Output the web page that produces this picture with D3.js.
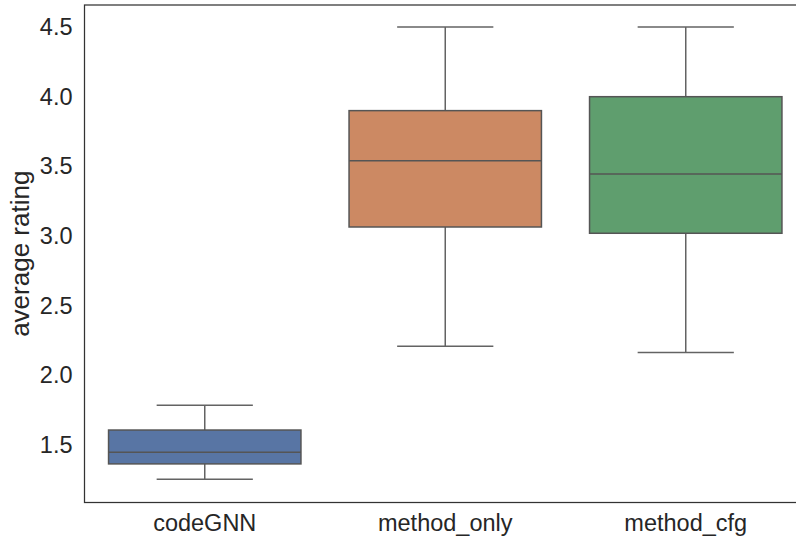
<!DOCTYPE html>
<html>
<head>
<meta charset="utf-8">
<script src="https://cdn.jsdelivr.net/npm/d3@7"></script>
<style>
  body { margin: 0; background: #fff; }
  text { font-family: "Liberation Sans", Arial, sans-serif; fill: #262626; }
</style>
</head>
<body>
<script>
//box statistics
var categories = ["codeGNN", "method_only", "method_cfg"];
var lowWhisker = [1.255, 2.21, 2.165];
var q1 = [1.365, 3.065, 3.02];
var medians = [1.448, 3.54, 3.445];
var q3 = [1.608, 3.90, 4.0];
var highWhisker = [1.786, 4.5, 4.5];
var colors = ["#5875a4", "#cc8963", "#5f9e6e"];
var yTicks = [1.5, 2.0, 2.5, 3.0, 3.5, 4.0, 4.5];

(function(){
    var width = 796, height = 542;
    //axes frame (right edge runs past the window)
    var left = 84.5, right = 806, top = 5, bottom = 502.5;

    var svg = d3.select("body").append("svg")
        .attr("width", width)
        .attr("height", height);

    var x = d3.scaleBand()
        .domain(categories)
        .range([left, right])
        .paddingInner(0.2)
        .paddingOuter(0.1);

    var y = d3.scaleLinear()
        .domain([1.088, 4.658])
        .range([bottom, top]);

    var lineColor = "#636363";

    //one group per category
    var boxes = svg.selectAll(".box")
        .data(categories)
        .enter()
        .append("g")
        .attr("class", "box");

    boxes.each(function(c, i){
        var g = d3.select(this);
        var cx = x(c) + x.bandwidth() / 2;
        var capHalf = x.bandwidth() / 4;

        //whiskers
        g.append("line")
            .attr("x1", cx).attr("x2", cx)
            .attr("y1", y(q1[i])).attr("y2", y(lowWhisker[i]))
            .attr("stroke", lineColor).attr("stroke-width", 1.5);
        g.append("line")
            .attr("x1", cx).attr("x2", cx)
            .attr("y1", y(q3[i])).attr("y2", y(highWhisker[i]))
            .attr("stroke", lineColor).attr("stroke-width", 1.5);
        //caps
        [lowWhisker[i], highWhisker[i]].forEach(function(v){
            g.append("line")
                .attr("x1", cx - capHalf).attr("x2", cx + capHalf)
                .attr("y1", y(v)).attr("y2", y(v))
                .attr("stroke", lineColor).attr("stroke-width", 1.5);
        });
        //box
        g.append("rect")
            .attr("x", x(c))
            .attr("y", y(q3[i]))
            .attr("width", x.bandwidth())
            .attr("height", y(q1[i]) - y(q3[i]))
            .attr("fill", colors[i])
            .attr("stroke", "#555555")
            .attr("stroke-width", 1.5);
        //median
        g.append("line")
            .attr("x1", x(c)).attr("x2", x(c) + x.bandwidth())
            .attr("y1", y(medians[i])).attr("y2", y(medians[i]))
            .attr("stroke", "#555555").attr("stroke-width", 1.5);
    });

    //y axis labels (no tick marks in this style)
    var yAxis = d3.axisLeft(y)
        .tickValues(yTicks)
        .tickFormat(d3.format(".1f"))
        .tickSize(0)
        .tickPadding(12);
    var yg = svg.append("g")
        .attr("transform", "translate(" + left + ",0)")
        .call(yAxis);
    yg.select(".domain").remove();
    yg.selectAll("text")
        .style("font-size", "23.5px")
        .attr("fill", "#262626")
        .attr("font-family", "Liberation Sans, Arial, sans-serif");

    //x axis labels
    var xAxis = d3.axisBottom(x).tickSize(0).tickPadding(12);
    var xg = svg.append("g")
        .attr("transform", "translate(0," + bottom + ")")
        .call(xAxis);
    xg.select(".domain").remove();
    xg.selectAll("text")
        .style("font-size", "23.5px")
        .attr("fill", "#262626")
        .attr("font-family", "Liberation Sans, Arial, sans-serif");

    //frame
    svg.append("rect")
        .attr("x", left)
        .attr("y", top)
        .attr("width", right - left)
        .attr("height", bottom - top)
        .attr("fill", "none")
        .attr("stroke", "#333333")
        .attr("stroke-width", 1.25);

    //y axis title
    svg.append("text")
        .attr("transform", "translate(29," + ((top + bottom) / 2) + ") rotate(-90)")
        .attr("text-anchor", "middle")
        .style("font-size", "26px")
        .text("average rating");
})();
</script>
</body>
</html>
